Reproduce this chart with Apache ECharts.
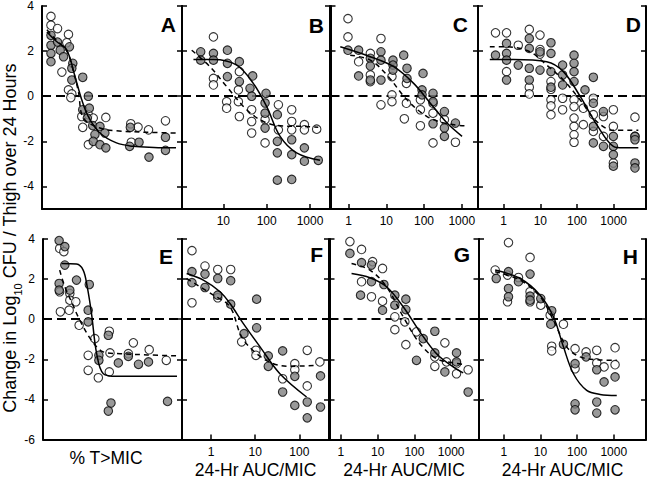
<!DOCTYPE html>
<html><head><meta charset="utf-8">
<script src="https://cdn.jsdelivr.net/npm/echarts@6/dist/echarts.min.js"></script>
<style>html,body{margin:0;padding:0;background:#fff}#c{width:650px;height:478px}</style>
</head><body><div id="c"></div>
<script>
// ---------- DATA ----------
const panelLetters = ['A','B','C','D','E','F','G','H'];
const yTicksTop = [-4,-2,0,2,4];
const yTicksBottom = [-6,-4,-2,0,2,4];
const yTitle = 'Change in Log{sub|10} CFU / Thigh over 24 Hours';
const xTitleTime = '% T>MIC';
const xTitleAuc = '24-Hr AUC/MIC';

// Panel A (% T>MIC)
const aOpen = [[6.4,3.54],[6.4,3.15],[11.1,3.0],[18.9,2.74],[17.7,2.37],[14.2,1.07],[18.9,0.28],[21.3,0.1],[20.6,-0.06],[28.4,-0.9],[29.1,-1.38],[33.1,-0.82],[36.6,-0.97],[45.6,-0.94],[33.1,-2.15],[63.4,-1.22],[68.6,-1.37],[76.1,-1.49],[88.2,-1.09],[63.8,-2.04]];
const aFilled = [[6.4,2.7],[6.4,2.26],[6.4,1.9],[6.4,1.53],[11.1,2.4],[13.0,2.04],[15.4,1.75],[19.6,2.19],[22.0,1.46],[21.3,1.24],[21.3,0.72],[29.1,0.84],[33.1,0.0],[29.1,-0.6],[33.8,-0.53],[32.4,-0.97],[36.2,-1.3],[37.8,-1.7],[41.4,-1.34],[44.9,-1.63],[36.6,-2.0],[41.4,-2.15],[45.6,-2.29],[63.1,-1.38],[62.6,-2.22],[69.3,-2.04],[76.4,-2.7],[88.2,-1.82],[88.2,-2.4]];
const aSolid = [[3.5,2.85],[10,2.45],[17.7,2.04],[23.6,0.87],[28.4,-0.16],[33.1,-0.9],[41.4,-1.63],[53.2,-2.07],[65,-2.22],[80,-2.27],[95.7,-2.29]];
const aDashed = [[3.5,2.95],[10,2.5],[17.7,2.0],[22,1.2],[26,0.2],[29.6,-0.97],[41.4,-1.41],[53.2,-1.53],[75,-1.6],[95.7,-1.63]];

// Panel B
const bOpen = [[5.9,2.63],[5.9,0.79],[5.9,0.5],[11.9,-0.24],[11.9,-0.53],[22.2,0.28],[22.2,-0.24],[23.4,-0.9],[23.4,1.09],[45,-0.6],[45,-1.12],[45,-1.63],[91.7,-1.04],[91.7,-2.07],[186,-0.38],[186,-1.49],[378,-0.6],[378,-1.12],[378,-1.49],[741,-1.26],[741,-1.49],[1425,-1.46]];
const bFilled = [[3.0,1.97],[3.0,1.6],[5.9,1.9],[5.9,1.6],[12.4,2.04],[12.4,1.46],[12.4,0.87],[23.4,1.53],[23.4,0.65],[47.5,0.9],[41.2,0.35],[45,0.0],[96.5,0.13],[91.7,-0.3],[91.7,-0.75],[91.7,-1.41],[176,-0.82],[176,-2.0],[176,-2.51],[176,-3.72],[378,-1.93],[378,-2.59],[378,-3.69],[741,-2.29],[741,-2.88],[1550,-2.84]];
const bSolid = [[2.04,1.63],[5.9,1.63],[20.4,1.38],[49,0.57],[100,-0.46],[204,-1.78],[490,-2.51],[1700,-2.84]];
const bDashed = [[1.86,2.04],[4.9,1.31],[11.9,0.43],[34.6,-0.6],[83.5,-1.12],[204,-1.31],[700,-1.34],[1550,-1.38]];

// Panel C
const cOpen = [[0.96,3.44],[0.96,2.63],[1.84,1.53],[3.76,1.9],[3.76,0.94],[3.76,0.65],[7.2,2.56],[7.2,-0.38],[14.1,0.87],[14.1,0.06],[14.1,-0.24],[34,0.57],[34,-0.31],[30,-1.0],[80,-0.16],[80,-0.6],[80,-1.31],[173,-0.31],[173,-0.75],[173,-2.07],[347,-1.04],[680,-2.04]];
const cFilled = [[0.96,2.04],[1.84,2.04],[1.84,0.9],[3.76,1.68],[3.76,1.34],[3.76,0.72],[7.2,1.97],[7.2,1.6],[7.2,0.72],[15,1.6],[15,1.38],[15,1.16],[28.9,1.82],[35.3,1.24],[35.3,0.79],[94,1.01],[88.5,0.28],[88.5,0.06],[173,0.13],[173,-0.24],[173,-1.22],[347,-0.68],[347,-1.41],[347,-1.78],[680,-1.19]];
const cSolid = [[0.6,2.19],[3.76,1.75],[15.7,1.31],[53,0.57],[147,-0.31],[408,-1.19],[1020,-1.78]];
const cDashed = [[1.1,1.82],[3.76,1.6],[10.4,0.94],[35.3,-0.16],[120,-0.9],[408,-1.22],[1250,-1.31]];

// Panel D
const dOpen = [[0.6,2.81],[1.2,2.81],[1.2,1.09],[2.5,2.26],[5.0,2.96],[5.0,0.4],[5.0,0.1],[9.8,2.71],[9.8,2.07],[9.8,1.87],[19.5,0.65],[19.5,0.31],[19.5,-0.16],[19.5,-0.43],[19.5,-0.82],[40.5,-0.09],[40.5,-0.6],[83,-0.16],[83,-0.46],[83,-0.97],[83,-1.34],[83,-1.71],[83,-2.04],[149,-0.53],[149,-1.26],[279,-0.09],[279,-0.82],[279,-1.56],[525,-0.9],[525,-1.78],[980,-0.6],[980,-1.34],[980,-2.96],[3800,-0.93],[3800,-1.78]];
const dFilled = [[0.6,1.82],[1.2,2.34],[1.2,1.9],[1.2,1.6],[1.2,0.72],[2.5,1.38],[5.0,2.56],[5.0,2.12],[5.0,1.24],[5.0,0.72],[9.8,1.97],[9.8,1.16],[19.5,2.37],[19.5,1.9],[19.5,1.09],[19.5,0.4],[40.5,1.38],[40.5,0.94],[40.5,0.5],[83,1.82],[83,1.46],[83,1.09],[83,0.65],[165,0.28],[279,0.84],[279,-0.31],[279,-1.34],[279,-2.07],[525,-0.68],[525,-2.22],[980,-1.78],[980,-2.22],[980,-2.59],[980,-3.1],[3800,-1.78],[3800,-1.93],[3800,-2.96],[3800,-3.18]];
const dSolid = [[0.42,1.63],[1.83,1.63],[14.9,1.53],[42.5,1.09],[121,0.0],[345,-1.26],[980,-2.22],[1830,-2.29],[4700,-2.29]];
const dDashed = [[0.42,2.19],[1.2,2.19],[5.2,1.97],[14.9,1.38],[42.5,0.72],[121,-0.16],[345,-1.12],[980,-1.51],[4700,-1.51]];

// Panel E (% T>MIC)
const eOpen = [[12,3.53],[15,3.37],[12.5,0.37],[12,1.37],[19.3,1.28],[19.3,0.95],[23.6,0.87],[18.8,0.45],[26,-0.3],[37.3,-0.97],[32.5,-1.8],[32.5,-2.55],[39.8,-2.92],[47.7,-0.6],[47.7,-2.63],[48.2,-1.68],[61.4,-1.72],[65,-1.18],[76.4,-1.52],[88.7,-2.05]];
const eFilled = [[11.6,3.92],[15.7,3.62],[11.6,1.78],[11.6,1.45],[15.7,2.7],[19.3,1.45],[24.1,1.95],[33.3,1.73],[32.5,0.45],[32.5,-0.13],[40.2,-1.8],[40.2,-2.05],[47,-0.8],[48.9,-4.18],[47,-4.58],[54.2,-2.18],[61.4,-1.85],[68.7,-2.25],[75.9,-2.13],[89.6,-4.1]];
const eSolid = [[13.3,2.78],[24.1,2.75],[28.9,2.45],[31.8,1.62],[34.9,0.28],[38.6,-1.72],[43.4,-2.72],[53,-2.85],[75,-2.85],[96.4,-2.85]];
const eDashed = [[12,2.45],[15.7,1.62],[20.5,0.87],[26.5,-0.05],[34.9,-1.05],[43.4,-1.63],[55.4,-1.72],[75,-1.78],[96.4,-1.83]];

// Panel F
const fOpen = [[0.37,3.42],[0.37,0.82],[0.73,2.65],[1.42,2.48],[2.79,2.48],[1.42,1.07],[4.94,-1.13],[10.4,-1.55],[10.4,-1.8],[41.9,-2.97],[79,-2.22],[79,-2.52],[151,-1.55],[151,-3.33],[292,-2.13]];
const fFilled = [[0.37,2.37],[0.37,1.82],[0.73,2.25],[0.73,1.58],[1.42,2.03],[1.42,1.2],[2.79,1.92],[2.79,0.75],[10.8,1.0],[10.8,-0.43],[5.58,-0.72],[19.8,-1.83],[19.8,-2.35],[41.9,-1.58],[41.9,-3.63],[79,-2.85],[79,-4.3],[151,-4.13],[151,-4.92],[302,-2.83],[302,-4.38]];
const fSolid = [[0.28,2.28],[0.67,1.95],[1.6,1.37],[2.69,0.78],[5.4,-0.22],[12.9,-1.38],[36.3,-2.72],[146,-3.88]];
const fDashed = [[0.28,2.03],[1.13,1.2],[2.69,0.62],[4.94,-0.88],[10.8,-1.72],[25.7,-2.22],[61.2,-2.35],[246,-2.3]];

// Panel G
const gOpen = [[1.76,3.87],[3.65,3.48],[3.65,1.87],[6.8,1.12],[7.3,2.87],[13.6,2.53],[13.6,0.9],[29.4,0.12],[29.4,-0.52],[55,-0.13],[58.6,-1.27],[114,-0.63],[360,-1.88],[360,-2.35],[675,-1.18],[748,-2.13],[1400,-2.72],[1400,-2.22],[2900,-2.52]];
const gFilled = [[1.76,3.28],[3.43,1.2],[3.65,2.82],[6.8,2.7],[6.8,1.87],[14.8,1.73],[13.6,0.45],[29.4,1.2],[29.4,0.7],[58.6,1.0],[58.6,0.48],[174,-0.97],[360,-0.6],[114,-2.05],[360,-1.68],[675,-2.63],[1400,-1.68],[1400,-2.13],[2900,-3.63]];
const gSolid = [[1.95,2.28],[6.15,2.07],[17.5,1.62],[49.6,0.62],[141,-0.63],[400,-1.72],[1135,-2.38],[2125,-2.68]];
const gDashed = [[1.95,2.78],[6.15,2.45],[17.5,1.62],[49.6,0.12],[141,-1.22],[400,-1.97],[1135,-2.18],[2125,-2.25]];

// Panel H
const hOpen = [[1.34,3.82],[0.58,2.45],[1.26,2.2],[1.26,0.87],[2.51,2.08],[5.2,3.08],[5.2,1.37],[5.2,0.87],[10.2,0.7],[18.4,0.2],[42.4,-0.25],[20.3,-1.35],[20.3,-1.58],[88,-1.47],[88,-2.47],[176,-1.63],[344,-1.55],[344,-2.18],[545,-2.38],[1087,-1.42],[1087,-2.27]];
const hFilled = [[0.62,2.03],[1.34,2.37],[1.34,1.53],[1.34,1.12],[2.51,1.87],[5.2,2.25],[5.2,1.15],[5.2,0.95],[10.2,1.03],[20.3,0.42],[19.1,-0.25],[42.4,-1.25],[88,-2.22],[88,-4.22],[88,-4.52],[176,-1.88],[344,-2.52],[344,-4.13],[344,-4.68],[545,-3.13],[1087,-2.88],[1087,-4.52]];
const hSolid = [[0.58,2.45],[2.79,2.03],[9.8,1.2],[22.6,0.12],[42.4,-1.38],[79.5,-2.72],[183,-3.55],[424,-3.75],[1210,-3.8]];
const hDashed = [[0.58,2.37],[2.79,1.95],[9.8,1.12],[22.6,-0.05],[52,-1.38],[121,-1.88],[344,-2.02],[1210,-2.05]];

// x-axis ranges
const xRanges = [[0,100],[1.11,2890],[0.33,2700],[0.2,7600],[0,100],[0.22,470],[0.49,5550],[0.21,7600]];

// ---------- LAYOUT / OPTION ----------
const FONT = 'Arial, "Liberation Sans", Helvetica, sans-serif';
const panels = [
  {open:aOpen, filled:aFilled, solid:aSolid, dashed:aDashed},
  {open:bOpen, filled:bFilled, solid:bSolid, dashed:bDashed},
  {open:cOpen, filled:cFilled, solid:cSolid, dashed:cDashed},
  {open:dOpen, filled:dFilled, solid:dSolid, dashed:dDashed},
  {open:eOpen, filled:eFilled, solid:eSolid, dashed:eDashed},
  {open:fOpen, filled:fFilled, solid:fSolid, dashed:fDashed},
  {open:gOpen, filled:gFilled, solid:gSolid, dashed:gDashed},
  {open:hOpen, filled:hFilled, solid:hSolid, dashed:hDashed}
];
const layout = [
  {l:42, t:6, w:140, h:203},
  {l:182, t:6, w:148, h:203},
  {l:330.5, t:6, w:147.5, h:203},
  {l:478, t:6, w:168, h:203},
  {l:43, t:239, w:139, h:200.5},
  {l:182, t:239, w:147, h:200.5},
  {l:329.5, t:239, w:149, h:200.5},
  {l:479, t:239, w:167, h:200.5}
];
const letterPos = [[176,24.5],[324,25.5],[468,24.5],[641,24],[173,256],[323,254.5],[470,254.5],[638,256]];

const axisLineStyle = {color:'#000', width:2};
const tickStyle = {color:'#000', width:1.5};
const grids = [], xAxes = [], yAxes = [], series = [], graphics = [];

panels.forEach((p, i) => {
  const L = layout[i];
  const top = i < 4;
  const isPct = (i === 0 || i === 4);
  grids.push({left:L.l, top:L.t, width:L.w, height:L.h, containLabel:false});
  if (isPct) {
    xAxes.push({gridIndex:i, type:'value', min:xRanges[i][0], max:xRanges[i][1],
      axisLine:{show:true, onZero:false, lineStyle:axisLineStyle}, axisTick:{show:false},
      axisLabel:{show:false}, splitLine:{show:false}});
  } else {
    xAxes.push({gridIndex:i, type:'log', logBase:10, min:xRanges[i][0], max:xRanges[i][1],
      axisLine:{show:true, onZero:false, lineStyle:axisLineStyle},
      axisTick:{show:true, inside:true, length:5, lineStyle:tickStyle},
      axisLabel:{show:true, showMinLabel:false, showMaxLabel:false, fontSize:12, fontFamily:FONT, color:'#000', margin:6,
        formatter: v => (v >= 1 ? String(Math.round(v)) : String(v))},
      splitLine:{show:false}});
  }
  const yBase = top
    ? {min:-5, max:4, axisTick:{show:true, inside:true, length:5, lineStyle:tickStyle, customValues:yTicksTop}}
    : {min:-6, max:4, interval:2, axisTick:{show:true, inside:true, length:5, lineStyle:tickStyle}};
  const labelShown = isPct;
  yAxes.push(Object.assign({gridIndex:i, type:'value', position:'left',
    axisLine:{show:true, onZero:false, lineStyle:axisLineStyle},
    axisLabel:Object.assign({show:labelShown, fontSize:12, fontFamily:FONT, color:'#000', margin:8}, top ? {customValues:yTicksTop} : {}),
    splitLine:{show:false}}, yBase));
  yAxes.push(Object.assign({gridIndex:i, type:'value', position:'right',
    axisLine:{show:true, onZero:false, lineStyle:axisLineStyle},
    axisLabel:{show:false}, splitLine:{show:false}}, yBase));
  const yIdx = 2*i;
  series.push({type:'scatter', xAxisIndex:i, yAxisIndex:yIdx, data:p.open, symbol:'circle', symbolSize:8.5,
    itemStyle:{color:'#fff', borderColor:'#000', borderWidth:1.1}, z:2, silent:true,
    markLine:{silent:true, symbol:'none', z:1, label:{show:false}, animation:false,
      lineStyle:{color:'#000', type:[9,5], width:2}, data:[{yAxis:0}]}});
  series.push({type:'scatter', xAxisIndex:i, yAxisIndex:yIdx, data:p.filled, symbol:'circle', symbolSize:8.5,
    itemStyle:{color:'#808080', borderColor:'#000', borderWidth:1.1}, z:2, silent:true});
  series.push({type:'line', xAxisIndex:i, yAxisIndex:yIdx, data:p.solid, showSymbol:false, smooth:0.35,
    lineStyle:{color:'#000', width:1.5, type:'solid'}, z:3, silent:true});
  series.push({type:'line', xAxisIndex:i, yAxisIndex:yIdx, data:p.dashed, showSymbol:false, smooth:0.35,
    lineStyle:{color:'#000', width:1.5, type:[5,4]}, z:3, silent:true});
  graphics.push({type:'text', x:letterPos[i][0], y:letterPos[i][1],
    style:{text:panelLetters[i], fontSize:21, fontWeight:'bold', fontFamily:FONT, fill:'#000', align:'right', verticalAlign:'middle'}});
});

graphics.push({type:'text', x:10, y:238, rotation:Math.PI/2,
  style:{text:yTitle, fontSize:18, fontFamily:FONT, fill:'#000', align:'center', verticalAlign:'middle',
    rich:{sub:{fontSize:11, fontFamily:FONT, fill:'#000', verticalAlign:'bottom', lineHeight:26}}}});
graphics.push({type:'text', x:106, y:458, style:{text:xTitleTime, fontSize:17.5, fontFamily:FONT, fill:'#000', align:'center', verticalAlign:'middle'}});
[5,6,7].forEach(i => {
  const L = layout[i];
  graphics.push({type:'text', x:L.l + L.w/2, y:469.5, style:{text:xTitleAuc, fontSize:17.5, fontFamily:FONT, fill:'#000', align:'center', verticalAlign:'middle'}});
});

const chart = echarts.init(document.getElementById('c'), null, {renderer:'svg', width:650, height:478});
chart.setOption({
  animation:false,
  backgroundColor:'#fff',
  grid:grids, xAxis:xAxes, yAxis:yAxes, series:series, graphic:graphics
});
</script>
</body></html>
